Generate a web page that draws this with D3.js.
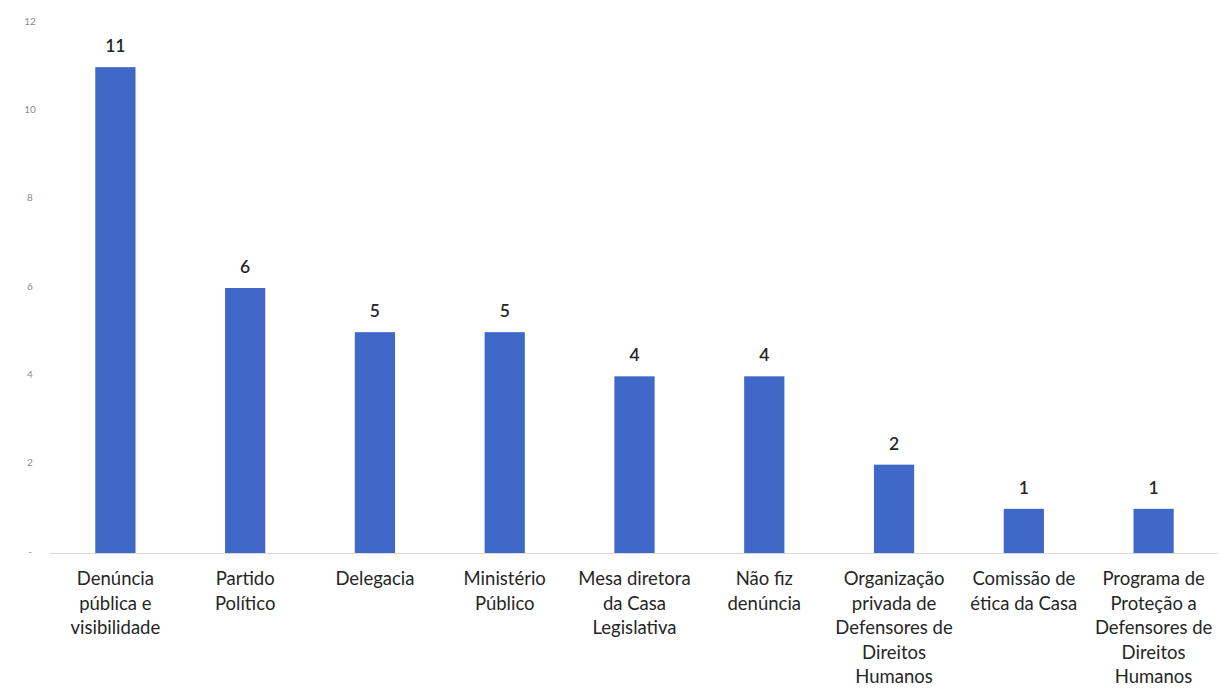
<!DOCTYPE html>
<html><head><meta charset="utf-8">
<script src="https://cdn.jsdelivr.net/npm/d3@7"></script>
<style>body{margin:0;background:#fff}svg{display:block}</style>
</head><body>
<svg id="chart" width="1220" height="688"></svg>
<script>
const categories = [
  ["Denúncia","pública e","visibilidade"],
  ["Partido","Político"],
  ["Delegacia"],
  ["Ministério","Público"],
  ["Mesa diretora","da Casa","Legislativa"],
  ["Não fiz","denúncia"],
  ["Organização","privada de","Defensores de","Direitos","Humanos"],
  ["Comissão de","ética da Casa"],
  ["Programa de","Proteção a","Defensores de","Direitos","Humanos"]
];
const values = [11, 6, 5, 5, 4, 4, 2, 1, 1];
const yTicks = [0, 2, 4, 6, 8, 10, 12];
const yTickLabels = ["-", "2", "4", "6", "8", "10", "12"];

const svg = d3.select("#chart");
const font = "Lato, 'Open Sans', sans-serif";
const x = d3.scaleBand().domain(d3.range(values.length)).range([50.5, 1218.5]).paddingInner(0.69).paddingOuter(0.345);
const y = d3.scaleLinear().domain([0, 12]).range([553, 23]);

// baseline
svg.append("line").attr("x1", 50).attr("x2", 1218).attr("y1", y(0)+0.5).attr("y2", y(0)+0.5)
  .attr("stroke", "#d9d9d9").attr("stroke-width", 1);

// y tick labels
svg.append("g").selectAll("text").data(yTicks).join("text")
  .attr("x", 30).attr("y", d => y(d) - 2).attr("dy", "0.35em").attr("text-anchor", "middle")
  .attr("font-family", font).attr("font-size", 10).attr("fill", "#8c8c8c")
  .text((d, i) => yTickLabels[i]);

// bars
svg.append("g").selectAll("rect").data(values).join("rect")
  .attr("x", (d, i) => x(i)).attr("width", x.bandwidth())
  .attr("y", d => y(d)).attr("height", d => y(0) - y(d))
  .attr("fill", "#3f68c9");

// value labels
svg.append("g").selectAll("text").data(values).join("text")
  .attr("x", (d, i) => x(i) + x.bandwidth()/2).attr("y", d => y(d) - 15)
  .attr("text-anchor", "middle").attr("font-family", font).attr("font-size", 17.5)
  .attr("font-weight", 600).attr("fill", "#262626").text(d => d);

// category labels
const cat = svg.append("g").selectAll("text").data(categories).join("text")
  .attr("x", (d, i) => x(i) + x.bandwidth()/2).attr("y", 585)
  .attr("text-anchor", "middle").attr("font-family", font).attr("font-size", 18.5).attr("fill", "#262626");
cat.selectAll("tspan").data(d => d).join("tspan")
  .attr("x", function(){ return this.parentNode.getAttribute("x"); })
  .attr("dy", (d, j) => j === 0 ? 0 : 24.6).text(d => d);
</script>
</body></html>
